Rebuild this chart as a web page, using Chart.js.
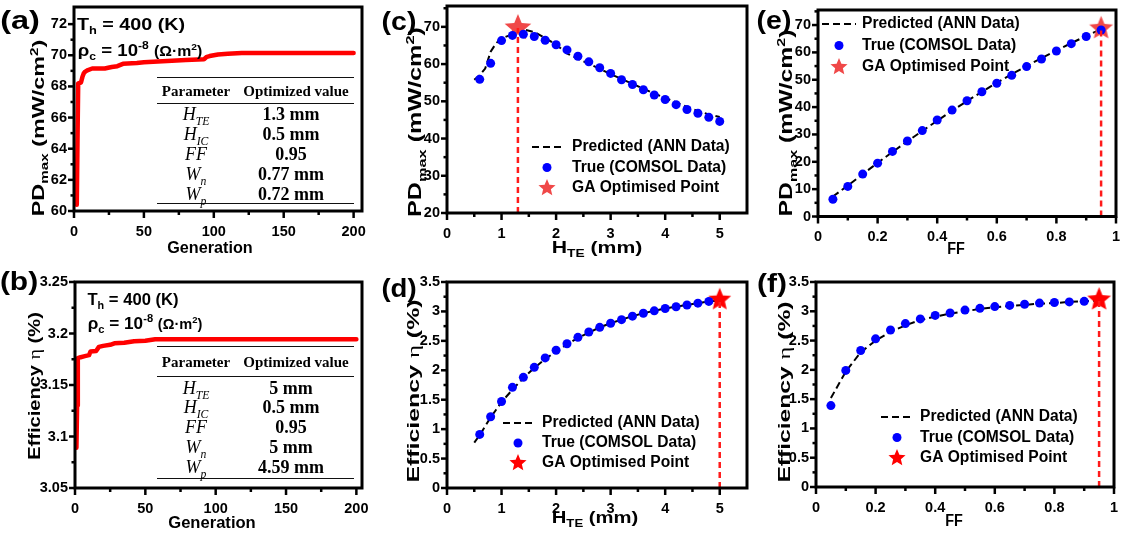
<!DOCTYPE html>
<html>
<head>
<meta charset="utf-8">
<script src="https://cdn.jsdelivr.net/npm/chart.js@4.4.1/dist/chart.umd.min.js"></script>
<style>
  html, body { margin: 0; padding: 0; background: #fff; }
  #fig { position: relative; width: 1125px; height: 540px; overflow: hidden; font-family: Arial, "Liberation Sans", sans-serif; color: #000; }
  #fig canvas { position: absolute; }
  .txt { position: absolute; left: 0; top: 0; white-space: nowrap; font-weight: bold; line-height: 1; }
  .txt sub, .txt sup { font-size: 0.65em; line-height: 0; }
  .sm { font-size: 0.85em; }
  .eta { font-family: "Liberation Serif", "Times New Roman", serif; font-weight: normal; }
  .cell { position: absolute; white-space: nowrap; font-family: "Liberation Serif", "Times New Roman", serif; line-height: 1; transform: translate(-50%, -50%); }
  .cell sub { font-size: 0.65em; line-height: 0; }
  .rule { position: absolute; height: 0; border-top: 1.5px solid #111; }
</style>
</head>
<body>
<div id="fig">
  <canvas id="chA" width="375" height="270" style="left:0;top:0"></canvas>
  <canvas id="chB" width="375" height="270" style="left:0;top:270px"></canvas>
  <canvas id="chC" width="375" height="270" style="left:375px;top:0"></canvas>
  <canvas id="chD" width="375" height="270" style="left:375px;top:270px"></canvas>
  <canvas id="chE" width="375" height="270" style="left:750px;top:0"></canvas>
  <canvas id="chF" width="375" height="270" style="left:750px;top:270px"></canvas>

  <!-- panel letters -->
  <div class="txt" data-cx="20" data-cy="20" data-w="40" style="font-size:26px">(a)</div>
  <div class="txt" data-cx="19" data-cy="281" data-w="38" style="font-size:26px">(b)</div>
  <div class="txt" data-cx="399" data-cy="21" data-w="35" style="font-size:26px">(c)</div>
  <div class="txt" data-cx="399" data-cy="288" data-w="35" style="font-size:26px">(d)</div>
  <div class="txt" data-cx="774" data-cy="20" data-w="35" style="font-size:26px">(e)</div>
  <div class="txt" data-cx="772" data-cy="283" data-w="30" style="font-size:26px">(f)</div>

  <!-- y titles -->
  <div class="txt" data-cx="39" data-cy="128" data-w="177" data-rot="1" style="font-size:16px">PD<sub>max</sub> (mW/cm<sup>2</sup>)</div>
  <div class="txt" data-cx="35" data-cy="386" data-w="148" data-rot="1" style="font-size:16px">Efficiency <span class="eta">η</span> (%)</div>
  <div class="txt" data-cx="415" data-cy="122" data-w="190" data-rot="1" style="font-size:18px">PD<sub>max</sub> (mW/cm<sup>2</sup>)</div>
  <div class="txt" data-cx="413" data-cy="391" data-w="183" data-rot="1" style="font-size:17px">Efficiency <span class="eta">η</span> (%)</div>
  <div class="txt" data-cx="786" data-cy="123" data-w="187" data-rot="1" style="font-size:18px">PD<sub>max</sub> (mW/cm<sup>2</sup>)</div>
  <div class="txt" data-cx="784" data-cy="392" data-w="181" data-rot="1" style="font-size:17px">Efficiency <span class="eta">η</span> (%)</div>

  <!-- x titles -->
  <div class="txt" data-cx="210" data-cy="248" data-w="85" style="font-size:16px">Generation</div>
  <div class="txt" data-cx="212" data-cy="523" data-w="87" style="font-size:16px">Generation</div>
  <div class="txt" data-cx="597" data-cy="248" data-w="90" style="font-size:16px">H<sub>TE</sub> (mm)</div>
  <div class="txt" data-cx="595" data-cy="518" data-w="86" style="font-size:16px">H<sub>TE</sub> (mm)</div>
  <div class="txt" data-cx="956" data-cy="249" data-w="18" style="font-size:16px">FF</div>
  <div class="txt" data-cx="954" data-cy="521" data-w="18" style="font-size:16px">FF</div>

  <!-- conditions -->
  <div class="txt" data-cx="131" data-cy="24" data-w="108" style="font-size:17px">T<sub>h</sub> = 400 (K)</div>
  <div class="txt" data-cx="139.5" data-cy="50" data-w="125" style="font-size:17px">ρ<sub>c</sub> = 10<sup>-8</sup> <span class="sm">(Ω·m<sup>2</sup>)</span></div>
  <div class="txt" data-cx="132.5" data-cy="299" data-w="91" style="font-size:17px">T<sub>h</sub> = 400 (K)</div>
  <div class="txt" data-cx="144.5" data-cy="323" data-w="115" style="font-size:17px">ρ<sub>c</sub> = 10<sup>-8</sup> <span class="sm">(Ω·m<sup>2</sup>)</span></div>
</div>

<script>
// ---- panel (a): GA convergence of PDmax ----
const genA = [2, 2.5, 3, 5, 6, 7, 8, 10, 13, 22, 27, 31, 35, 45, 50, 60, 70, 80, 93, 95, 97, 103, 110, 120, 150, 200];
const pdA = [60.4, 64.5, 68.2, 68.25, 68.6, 68.85, 68.95, 69.05, 69.15, 69.15, 69.25, 69.3, 69.45, 69.5, 69.55, 69.6, 69.65, 69.7, 69.75, 69.9, 69.95, 70.05, 70.1, 70.15, 70.15, 70.15];

// ---- panel (b): GA convergence of efficiency ----
const genB = [1, 1.5, 2, 4, 7, 10, 11, 15, 17, 20, 25, 28, 35, 42, 50, 57, 200];
const effB = [3.089, 3.13, 3.176, 3.177, 3.178, 3.179, 3.1825, 3.183, 3.187, 3.188, 3.189, 3.1905, 3.191, 3.1925, 3.193, 3.1945, 3.1945];

// ---- panels (c),(d): sweep of H_TE ----
const hteAnn = [0.5, 0.6, 0.7, 0.8, 0.9, 1.0, 1.2, 1.4, 1.6, 1.8, 2.0, 2.2, 2.4, 2.6, 2.8, 3.0, 3.2, 3.4, 3.6, 3.8, 4.0, 4.2, 4.4, 4.6, 4.8, 5.0];
const pdAnnC = [55.8, 57.0, 58.8, 63.3, 65.6, 66.9, 68.0, 69.3, 68.6, 67.0, 65.2, 62.9, 61.4, 60.1, 58.7, 57.3, 56.0, 54.7, 53.4, 52.1, 50.9, 49.7, 48.5, 47.4, 46.5, 45.8];
const hteTrueC = [0.6, 0.8, 1.0, 1.2, 1.4, 1.6, 1.8, 2.0, 2.2, 2.4, 2.6, 2.8, 3.0, 3.2, 3.4, 3.6, 3.8, 4.0, 4.2, 4.4, 4.6, 4.8, 5.0];
const pdTrueC = [55.9, 60.2, 66.3, 67.7, 68.0, 67.4, 66.4, 65.2, 63.8, 62.1, 60.6, 59.0, 57.5, 55.8, 54.5, 53.1, 51.7, 50.5, 49.1, 47.8, 46.8, 45.7, 44.6];
const gaC = [1.3, 69.7];
const vlineCy = [20, 69.7];

const effAnnD = [0.77, 0.9, 1.05, 1.2, 1.33, 1.46, 1.67, 1.87, 2.04, 2.19, 2.32, 2.44, 2.55, 2.64, 2.73, 2.8, 2.86, 2.92, 2.97, 3.01, 3.05, 3.08, 3.11, 3.14, 3.17, 3.19];
const hteTrueD = [0.6, 0.8, 1.0, 1.2, 1.4, 1.6, 1.8, 2.0, 2.2, 2.4, 2.6, 2.8, 3.0, 3.2, 3.4, 3.6, 3.8, 4.0, 4.2, 4.4, 4.6, 4.8];
const effTrueD = [0.91, 1.21, 1.47, 1.71, 1.88, 2.05, 2.21, 2.34, 2.45, 2.56, 2.65, 2.73, 2.80, 2.86, 2.92, 2.97, 3.01, 3.05, 3.08, 3.11, 3.14, 3.17];
const gaD = [5, 3.2];
const vlineDy = [0, 3.2];

// ---- panels (e),(f): sweep of FF ----
const ffAnn = [0.05, 0.1, 0.15, 0.2, 0.25, 0.3, 0.35, 0.4, 0.45, 0.5, 0.55, 0.6, 0.65, 0.7, 0.75, 0.8, 0.85, 0.9, 0.95];
const pdAnnE = [7.3, 11.3, 15.5, 19.6, 23.6, 27.5, 31.3, 35.0, 38.7, 42.2, 45.6, 48.9, 52.0, 55.0, 57.9, 60.7, 63.4, 66.0, 68.5];
const ffTrueE = [0.05, 0.1, 0.15, 0.2, 0.25, 0.3, 0.35, 0.4, 0.45, 0.5, 0.55, 0.6, 0.65, 0.7, 0.75, 0.8, 0.85, 0.9, 0.95];
const pdTrueE = [6.3, 11.0, 15.5, 19.5, 23.8, 27.6, 31.4, 35.3, 38.9, 42.3, 45.6, 48.7, 51.6, 54.8, 57.6, 60.5, 63.2, 65.8, 68.2];
const gaE = [0.95, 68.8];
const vlineEy = [0, 68.8];

const effAnnF = [1.52, 1.97, 2.3, 2.5, 2.65, 2.76, 2.85, 2.91, 2.96, 3.0, 3.04, 3.07, 3.09, 3.11, 3.13, 3.14, 3.16, 3.17, 3.19];
const ffTrueF = [0.05, 0.1, 0.15, 0.2, 0.25, 0.3, 0.35, 0.4, 0.45, 0.5, 0.55, 0.6, 0.65, 0.7, 0.75, 0.8, 0.85, 0.9];
const effTrueF = [1.39, 1.99, 2.33, 2.53, 2.68, 2.79, 2.87, 2.93, 2.97, 3.02, 3.05, 3.08, 3.10, 3.12, 3.14, 3.15, 3.16, 3.17];
const gaF = [0.95, 3.2];
const vlineFy = [0, 3.2];

// ---- tick values ----
const genTicks = [0, 50, 100, 150, 200];
const genMinor = [25, 75, 125, 175];
const pdTicksA = [60, 62, 64, 66, 68, 70, 72];
const pdMinorA = [61, 63, 65, 67, 69, 71];
const effTicksB = [3.05, 3.1, 3.15, 3.2, 3.25];
const effMinorB = [3.075, 3.125, 3.175, 3.225];
const hteTicks = [0, 1, 2, 3, 4, 5];
const hteMinor = [0.5, 1.5, 2.5, 3.5, 4.5];
const pdTicksC = [20, 30, 40, 50, 60, 70];
const pdMinorC = [25, 35, 45, 55, 65, 75];
const effTicks = [0, 0.5, 1, 1.5, 2, 2.5, 3, 3.5];
const effMinor = [0.25, 0.75, 1.25, 1.75, 2.25, 2.75, 3.25];
const ffTicks = [0, 0.2, 0.4, 0.6, 0.8, 1];
const ffMinor = [0.1, 0.3, 0.5, 0.7, 0.9];
const pdTicksE = [0, 10, 20, 30, 40, 50, 60, 70];
const pdMinorE = [5, 15, 25, 35, 45, 55, 65, 75];

// ---- optimisation tables ----
const tblHead = ['Parameter', 'Optimized value'];
const tblParams = ['H<sub>TE</sub>', 'H<sub>IC</sub>', 'FF', 'W<sub>n</sub>', 'W<sub>p</sub>'];
const tblValsA = ['1.3 mm', '0.5 mm', '0.95', '0.77 mm', '0.72 mm'];
const tblValsB = ['5 mm', '0.5 mm', '0.95', '5 mm', '4.59 mm'];

const fmt = v => String(+v.toFixed(3));
const xy = (xs, ys) => xs.map((x, i) => ({ x: x, y: ys[i] }));

function starImage(color, r) {
    const s = Math.ceil(r * 2 + 2);
    const c = document.createElement('canvas');
    c.width = s; c.height = s;
    const g = c.getContext('2d');
    g.beginPath();
    for (let i = 0; i < 10; i++) {
        const a = -Math.PI / 2 + i * Math.PI / 5;
        const rr = i % 2 ? r * 0.45 : r;
        g.lineTo(s / 2 + rr * Math.cos(a), s / 2 + rr * Math.sin(a));
    }
    g.closePath();
    g.fillStyle = color;
    g.fill();
    return c;
}

// box frame + major/minor tick marks
const frameTicks = {
    id: 'frameTicks',
    afterDraw(chart, args, opts) {
        const ctx = chart.ctx, a = chart.chartArea;
        const sx = chart.scales.x, sy = chart.scales.y;
        ctx.save();
        ctx.strokeStyle = '#000';
        ctx.lineWidth = 2.5;
        const mark = (vals, len, horiz) => {
            vals.forEach(v => {
                ctx.beginPath();
                if (horiz) {
                    const px = sx.getPixelForValue(v);
                    ctx.moveTo(px, a.bottom); ctx.lineTo(px, a.bottom + len);
                } else {
                    const py = sy.getPixelForValue(v);
                    ctx.moveTo(a.left, py); ctx.lineTo(a.left - len, py);
                }
                ctx.stroke();
            });
        };
        mark(sx.ticks.map(t => t.value), 7, true);
        mark(opts.xMinor || [], 4, true);
        mark(sy.ticks.map(t => t.value), 6, false);
        mark(opts.yMinor || [], 3.5, false);
        ctx.lineWidth = 3;
        ctx.strokeRect(a.left, a.top, a.right - a.left, a.bottom - a.top);
        ctx.restore();
    }
};

// legend placed inside the plot
const inLegend = {
    id: 'inLegend',
    afterDraw(chart, args, o) {
        if (!o.rows) return;
        const ctx = chart.ctx;
        ctx.save();
        ctx.font = 'bold 15.6px Arial';
        ctx.textBaseline = 'middle';
        o.rows.forEach((di, i) => {
            const ds = chart.data.datasets[di];
            const y = o.y + i * o.dy;
            if (ds.showLine) {
                ctx.strokeStyle = ds.borderColor;
                ctx.lineWidth = ds.borderWidth;
                ctx.setLineDash(ds.borderDash || []);
                ctx.beginPath();
                ctx.moveTo(o.mx - o.half, y); ctx.lineTo(o.mx + o.half, y);
                ctx.stroke();
                ctx.setLineDash([]);
            } else if (typeof ds.pointStyle === 'object') {
                const img = o.star;
                ctx.drawImage(img, o.mx - img.width / 2, y - img.height / 2);
            } else {
                ctx.fillStyle = ds.backgroundColor;
                ctx.beginPath();
                ctx.arc(o.mx, y, 4.5, 0, Math.PI * 2);
                ctx.fill();
            }
            ctx.fillStyle = '#000';
            ctx.fillText(ds.label, o.tx, y);
        });
        ctx.restore();
    }
};

function axis(min, max, ticks, dir, fit) {
    return {
        type: 'linear',
        min: min,
        max: max,
        bounds: 'data',
        afterBuildTicks: s => { s.ticks = ticks.map(v => ({ value: v })); },
        afterFit: s => {
            fit(s);
            s.paddingLeft = 0; s.paddingRight = 0; s.paddingTop = 0; s.paddingBottom = 0;
        },
        grid: { display: false, drawTicks: false },
        border: { display: false },
        ticks: {
            autoSkip: false,
            maxRotation: 0,
            minRotation: 0,
            padding: dir === 'x' ? 12 : 7,
            color: '#000',
            font: { family: 'Arial', size: 14.5, weight: 'bold' },
            callback: v => fmt(v)
        }
    };
}

function makePanel(id, p) {
    const area = p.area; // left, top, right, bottom inside the 375x270 canvas
    return new Chart(document.getElementById(id), {
        type: 'scatter',
        data: { datasets: p.datasets },
        options: {
            responsive: false,
            animation: false,
            events: [],
            layout: { autoPadding: false, padding: { left: 0, top: area[1], right: 375 - area[2], bottom: 0 } },
            plugins: {
                legend: { display: false },
                tooltip: { enabled: false },
                frameTicks: { xMinor: p.xMinor, yMinor: p.yMinor },
                inLegend: p.legend || {}
            },
            scales: {
                x: axis(p.x[0], p.x[1], p.xTicks, 'x', s => { s.height = 270 - area[3]; }),
                y: axis(p.y[0], p.y[1], p.yTicks, 'y', s => { s.width = area[0]; })
            }
        },
        plugins: [frameTicks, inLegend]
    });
}

function gaLine(xs, ys) {
    return { label: '', data: xy(xs, ys), showLine: true, borderColor: '#ff0000', borderWidth: 4.5,
             borderCapStyle: 'round', borderJoinStyle: 'round', pointRadius: 0 };
}

function sweepSets(annX, annY, trueX, trueY, ga, vy, starColor, starR) {
    return [
        { label: '', data: xy([ga[0], ga[0]], vy), showLine: true, borderColor: '#ff1a1a', borderWidth: 2.5, borderDash: [6, 4], pointRadius: 0 },
        { label: 'True (COMSOL Data)', data: xy(trueX, trueY), backgroundColor: '#0000ff', borderWidth: 0, pointRadius: 4.5 },
        { label: 'GA Optimised Point', data: [{ x: ga[0], y: ga[1] }], pointStyle: starImage(starColor, starR), pointRadius: 10 },
        { label: 'Predicted (ANN Data)', data: xy(annX, annY), showLine: true, borderColor: '#000', borderWidth: 2, borderDash: [7, 4], pointRadius: 0 }
    ];
}

makePanel('chA', {
    area: [74, 7, 362, 211], x: [0, 206], y: [60, 73.1],
    xTicks: genTicks, xMinor: genMinor, yTicks: pdTicksA, yMinor: pdMinorA,
    datasets: [gaLine(genA, pdA)]
});
makePanel('chB', {
    area: [75, 12, 362, 218], x: [0, 204], y: [3.05, 3.25],
    xTicks: genTicks, xMinor: genMinor, yTicks: effTicksB, yMinor: effMinorB,
    datasets: [gaLine(genB, effB)]
});
makePanel('chC', {
    area: [72, 6, 372, 213], x: [0, 5.5], y: [20, 75.6],
    xTicks: hteTicks, xMinor: hteMinor, yTicks: pdTicksC, yMinor: pdMinorC,
    datasets: sweepSets(hteAnn, pdAnnC, hteTrueC, pdTrueC, gaC, vlineCy, '#f04848', 14),
    legend: { rows: [3, 1, 2], y: 147, dy: 20.5, mx: 172, half: 15, tx: 197, star: starImage('#f04848', 9) }
});
makePanel('chD', {
    area: [72, 12, 372, 218], x: [0, 5.5], y: [0, 3.5],
    xTicks: hteTicks, xMinor: hteMinor, yTicks: effTicks, yMinor: effMinor,
    datasets: sweepSets(hteAnn, effAnnD, hteTrueD, effTrueD, gaD, vlineDy, '#ff0000', 12),
    legend: { rows: [3, 1, 2], y: 153, dy: 20, mx: 143, half: 15, tx: 167, star: starImage('#ff0000', 9) }
});
makePanel('chE', {
    area: [68, 10, 366, 216.5], x: [0, 1], y: [0, 75.5],
    xTicks: ffTicks, xMinor: ffMinor, yTicks: pdTicksE, yMinor: pdMinorE,
    datasets: sweepSets(ffAnn, pdAnnE, ffTrueE, pdTrueE, gaE, vlineEy, '#f04848', 12.5),
    legend: { rows: [3, 1, 2], y: 24, dy: 21.5, mx: 89, half: 17, tx: 112, star: starImage('#f04848', 9) }
});
makePanel('chF', {
    area: [66, 12, 364, 217], x: [0, 1], y: [0, 3.5],
    xTicks: ffTicks, xMinor: ffMinor, yTicks: effTicks, yMinor: effMinor,
    datasets: sweepSets(ffAnn, effAnnF, ffTrueF, effTrueF, gaF, vlineFy, '#ff0000', 12.5),
    legend: { rows: [3, 1, 2], y: 147, dy: 20.5, mx: 147, half: 16, tx: 170, star: starImage('#ff0000', 9) }
});

// ---- tables (three-line style) ----
const fig = document.getElementById('fig');
function addTable(rules, headY, rowYs, vals) {
    rules.forEach(y => {
        const r = document.createElement('div');
        r.className = 'rule';
        r.style.left = '157px'; r.style.width = '197px'; r.style.top = y + 'px';
        fig.appendChild(r);
    });
    const cell = (html, x, y, css) => {
        const d = document.createElement('div');
        d.className = 'cell';
        d.innerHTML = html;
        d.style.left = x + 'px'; d.style.top = y + 'px';
        d.style.cssText += css;
        fig.appendChild(d);
    };
    cell(tblHead[0], 196, headY, 'font-size:15px;font-weight:bold;');
    cell(tblHead[1], 296, headY, 'font-size:15px;font-weight:bold;');
    rowYs.forEach((y, i) => {
        cell(tblParams[i], 196, y, 'font-size:18px;font-style:italic;');
        cell(vals[i], 291, y, 'font-size:18px;font-weight:bold;');
    });
}
addTable([77, 103, 203], 91, [114, 134, 154, 174, 194], tblValsA);
addTable([346, 376, 478], 362, [388, 407, 427, 447, 467], tblValsB);

// ---- place and stretch the html labels ----
document.querySelectorAll('#fig .txt').forEach(function (el) {
    const w = el.offsetWidth;
    const k = el.dataset.w ? (+el.dataset.w / w) : 1;
    el.style.left = el.dataset.cx + 'px';
    el.style.top = el.dataset.cy + 'px';
    el.style.transform = 'translate(-50%,-50%)' + (el.dataset.rot ? ' rotate(-90deg)' : '') + ' scaleX(' + k.toFixed(3) + ')';
});
</script>
</body>
</html>
